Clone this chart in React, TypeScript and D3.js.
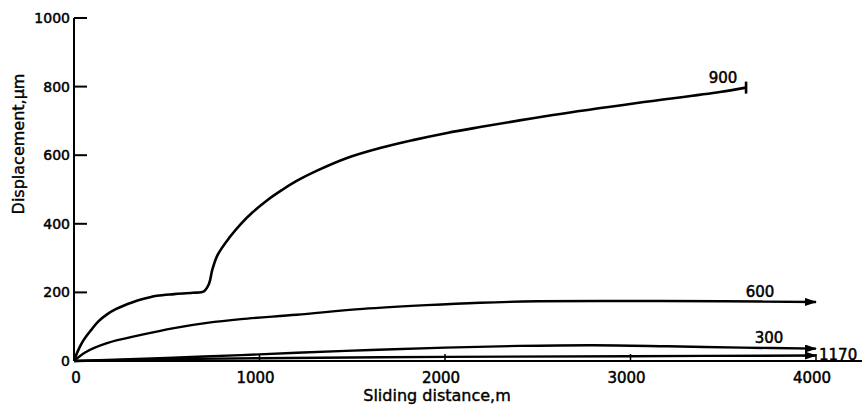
import React from "react";
import * as d3 from "d3";

const xTicks = [0, 1000, 2000, 3000, 4000];
const yTicks = [0, 200, 400, 600, 800, 1000];

const dist900 = [0, 20, 45, 70, 92, 130, 178, 225, 270, 320, 361, 447, 539, 640, 700, 728, 745, 775, 841, 900, 960, 1040, 1120, 1200, 1310, 1472, 1650, 1827, 2011, 2189, 2582, 3035, 3482, 3623];
const val900 = [0, 28, 55, 75, 90, 115, 136, 151, 162, 172, 179, 190, 195, 199, 203, 225, 265, 310, 362, 400, 432, 468, 498, 525, 555, 592, 621, 644, 665, 682, 717, 752, 784, 797];

const dist600 = [0, 60, 178, 361, 539, 717, 900, 1200, 1558, 1900, 2189, 2500, 3000, 3500, 4000];
const val600 = [0, 25, 52, 76, 96, 111, 122, 135, 152, 163, 170, 174, 175, 174, 172];

const dist300 = [0, 300, 600, 900, 1200, 1600, 2000, 2400, 2800, 3200, 3600, 4000];
const val300 = [0, 5, 11, 17, 24, 32, 39, 44, 46, 43, 39, 36];

const dist1170 = [0, 500, 1000, 2000, 3000, 4000];
const val1170 = [0, 5, 8, 12, 14, 16];

const seriesNames = ["900", "600", "300", "1170"];

export default function App() {
  const W = 864, H = 406;
  const x = d3.scaleLinear().domain([0, 4000]).range([74, 816]);
  const y = d3.scaleLinear().domain([0, 1000]).range([361, 18]);
  const line = d3.line<[number, number]>()
    .x(d => x(d[0]))
    .y(d => y(d[1]))
    .curve(d3.curveCatmullRom.alpha(0.5));
  const zip = (a: number[], b: number[]) => a.map((v, i) => [v, b[i]] as [number, number]);
  const s900 = zip(dist900, val900);
  const s600 = zip(dist600, val600);
  const s300 = zip(dist300, val300);
  const s1170 = zip(dist1170, val1170);
  const last = (s: [number, number][]) => s[s.length - 1];
  const font = "'DejaVu Sans', sans-serif";
  const e900 = last(s900), e600 = last(s600), e300 = last(s300), e1170 = last(s1170);
  const tickFont = { fontFamily: font, fontSize: 14, fontWeight: 400, fill: "#000", stroke: "#000", strokeWidth: 0.5 } as const;
  const labelFont = { fontFamily: font, fontSize: 15, fontWeight: 400, fill: "#000", stroke: "#000", strokeWidth: 0.5 } as const;
  const titleFont = { fontFamily: font, fontSize: 16, fontWeight: 400, fill: "#000", stroke: "#000", strokeWidth: 0.4 } as const;

  return (
    <svg width={W} height={H} style={{ position: "absolute", left: 0, top: 0, background: "#fff" }}>
      <defs>
        <marker id="arr" viewBox="0 0 12 8" refX="11" refY="4" markerWidth="12" markerHeight="8" markerUnits="userSpaceOnUse" orient="auto">
          <path d="M0,0 L12,4 L0,8 Z" fill="#000" />
        </marker>
      </defs>
      {/* axes */}
      <line x1={x(0)} x2={x(0)} y1={y(0)} y2={y(1000)} stroke="#000" strokeWidth={2} />
      <line x1={x(0)} x2={862} y1={y(0)} y2={y(0)} stroke="#000" strokeWidth={2.2} />
      {yTicks.map(t => (
        <g key={"y" + t}>
          {t > 0 && <line x1={x(0)} x2={x(0) + 13} y1={y(t)} y2={y(t)} stroke="#000" strokeWidth={2} />}
          <text x={x(0) - 4} y={y(t)} dy="0.36em" textAnchor="end" {...tickFont}>{t}</text>
        </g>
      ))}
      {xTicks.map(t => (
        <g key={"x" + t}>
          {t > 0 && <line x1={x(t)} x2={x(t)} y1={y(0)} y2={y(0) - 7} stroke="#000" strokeWidth={1.5} />}
          <text x={x(t) + (t === 0 ? 2 : -4)} y={383} textAnchor="middle" {...labelFont}>{t}</text>
        </g>
      ))}
      <text x={437} y={401} textAnchor="middle" {...titleFont}>Sliding distance,m</text>
      <text transform="translate(24,144) rotate(-90)" textAnchor="middle" {...titleFont}>Displacement,µm</text>

      {/* curves */}
      <path d={line(s900) || ""} fill="none" stroke="#000" strokeWidth={2.6} />
      <line x1={x(e900[0])} x2={x(e900[0])} y1={y(e900[1]) - 6} y2={y(e900[1]) + 6} stroke="#000" strokeWidth={2.6} />
      <path d={line(s600) || ""} fill="none" stroke="#000" strokeWidth={2.4} markerEnd="url(#arr)" />
      <path d={line(s300) || ""} fill="none" stroke="#000" strokeWidth={2.4} markerEnd="url(#arr)" />
      <path d={line(s1170) || ""} fill="none" stroke="#000" strokeWidth={2.4} markerEnd="url(#arr)" />

      {/* series labels */}
      <text x={x(e900[0]) - 23} y={y(e900[1]) - 5} textAnchor="middle" {...labelFont}>{seriesNames[0]}</text>
      <text x={x(e600[0]) - 56} y={y(e600[1]) - 5} textAnchor="middle" {...labelFont}>{seriesNames[1]}</text>
      <text x={x(e300[0]) - 47} y={y(e300[1]) - 6} textAnchor="middle" {...labelFont}>{seriesNames[2]}</text>
      <text x={x(e1170[0]) + 3} y={y(e1170[1]) + 4} textAnchor="start" {...labelFont}>{seriesNames[3]}</text>
    </svg>
  );
}
